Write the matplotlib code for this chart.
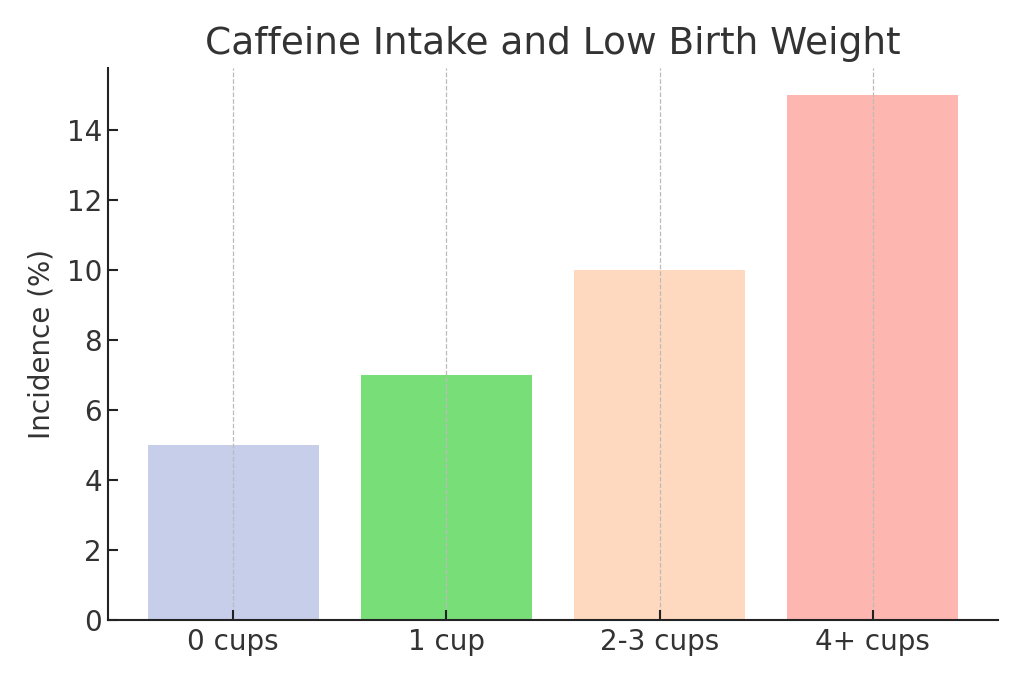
import matplotlib
matplotlib.use("Agg")
import matplotlib.pyplot as plt

# === Data ===
categories = ["0 cups", "1 cup", "2-3 cups", "4+ cups"]
incidence = [5, 7, 10, 15]
bar_colors = ["#c6ceea", "#78de78", "#fed9bf", "#feb6b1"]

fig, ax = plt.subplots(figsize=(10.24, 6.83), dpi=100)
ax.bar(categories, incidence, color=bar_colors, width=0.8, zorder=1)

ax.set_title("Caffeine Intake and Low Birth Weight", fontsize=27, color="#333333", pad=10)
ax.set_ylabel("Incidence (%)", fontsize=20, color="#333333", labelpad=8)
ax.tick_params(axis="both", labelsize=20, colors="#222222", length=7, width=1.5,
               direction="in")
ax.tick_params(axis="x", pad=6)
ax.tick_params(axis="y", pad=4)
for lbl in ax.get_xticklabels() + ax.get_yticklabels():
    lbl.set_color("#333333")

ax.grid(axis="x", linestyle="--", color="#bbbbbb", linewidth=0.9, zorder=2)
ax.set_axisbelow(False)
ax.spines["top"].set_visible(False)
ax.spines["right"].set_visible(False)
ax.spines["left"].set_linewidth(1.5)
ax.spines["bottom"].set_linewidth(1.5)
ax.spines["left"].set_color("#222222")
ax.spines["bottom"].set_color("#222222")

plt.subplots_adjust(left=0.105, right=0.975, top=0.9, bottom=0.092)
plt.savefig("out.png", dpi=100)
